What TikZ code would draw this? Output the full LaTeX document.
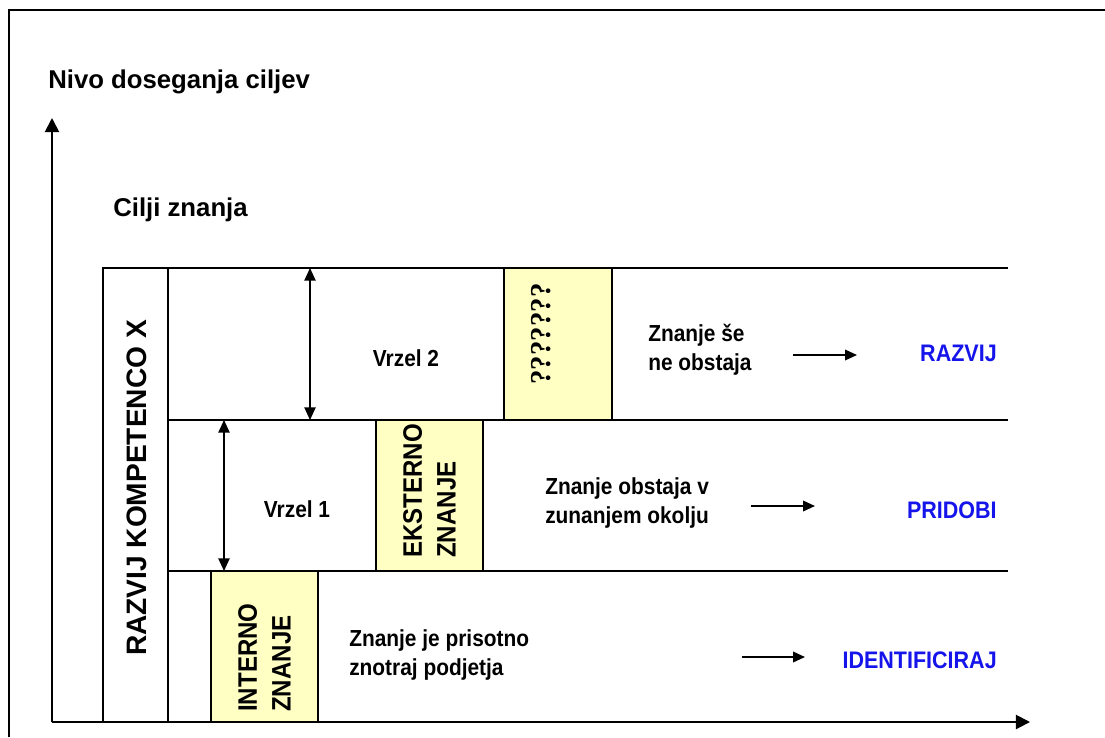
\documentclass[tikz,border=0pt]{standalone}
\usepackage{fontspec}
\setmainfont{Liberation Sans}
\newfontfamily\narrowsans{Liberation Sans}[FakeStretch=0.9]
\newfontfamily\qmarkfont{Liberation Serif}
\usetikzlibrary{arrows.meta}
\definecolor{paleyellow}{RGB}{255,255,196}
\definecolor{actionblue}{RGB}{20,20,235}
\tikzset{frameline/.style={line width=1.4pt},
         cell/.style={line width=1.1pt},
         knowbox/.style={cell, fill=paleyellow},
         axis/.style={line width=1.4pt, -{Triangle[length=10pt,width=10pt]}},
         gap/.style={line width=1.1pt,
           {Triangle[length=9pt,width=8pt]}-{Triangle[length=9pt,width=8pt]}},
         todo/.style={line width=1.2pt, -{Triangle[length=8.5pt,width=7.5pt]}},
         heading/.style={inner sep=0pt, font=\bfseries\fontsize{18.3}{22}\selectfont},
         body/.style={inner sep=0pt, align=left,
           font=\narrowsans\bfseries\fontsize{16.5}{20.5}\selectfont},
         action/.style={inner sep=0pt, text=actionblue,
           font=\narrowsans\bfseries\fontsize{17}{20}\selectfont},
         boxlabel/.style={inner sep=0pt, rotate=90, align=left,
           font=\narrowsans\bfseries\fontsize{19}{24}\selectfont}}

\begin{document}
\begin{tikzpicture}[x=0.025cm, y=-0.025cm]
  \useasboundingbox (0,0) rectangle (1105,737);

  % frame
  \draw[frameline] (9,737) -- (9,10) -- (1105,10);

  % axes
  \coordinate (origin) at (52,722);
  \coordinate (ytip) at (52,118);
  \coordinate (xtip) at (1030,722);

  \node[heading, anchor=base west] (levelname) at (48,88) {Nivo doseganja ciljev};
  \node[heading, anchor=base west] (goalsname) at (113,216) {Cilji znanja};

  % rows
  \draw[cell] (103,722) -- (103,268) -- (1008,268)
              (168,268) -- (168,722)
              (168,420) -- (1008,420)
              (168,571) -- (1008,571);

  \draw[knowbox] (211,571) rectangle (318,722);
  \draw[knowbox] (376,420) rectangle (483,571);
  \draw[knowbox] (504,268) rectangle (612,420);

  \draw[axis] (origin) -- (ytip);
  \draw[axis] (origin) -- (xtip);

  \node[rotate=90, inner sep=0pt, font=\bfseries\fontsize{20}{24}\selectfont]
    (competence) at (137,488) {RAZVIJ KOMPETENCO X};

  \node[boxlabel, anchor=west] (internal) at (264.5,712) {INTERNO\\ZNANJE};
  \node[boxlabel, anchor=west] (external) at (429.5,558) {EKSTERNO\\ZNANJE};
  \node[rotate=90, inner sep=0pt, font=\qmarkfont\bfseries\fontsize{20.5}{24}\selectfont]
    (unknown) at (541,334) {???????};

  % gaps
  \coordinate (gap2top) at (310,268);
  \coordinate (gap2bot) at (310,420);
  \coordinate (gap1top) at (224,420);
  \coordinate (gap1bot) at (224,571);
  \draw[gap] (gap2top) -- (gap2bot);
  \draw[gap] (gap1top) -- (gap1bot);
  \node[body] (gap2) at (406,358) {Vrzel 2};
  \node[body] (gap1) at (297,509) {Vrzel 1};

  % what to do
  \node[body, anchor=west] (missing) at (648,350) {Znanje še\\ne obstaja};
  \node[body, anchor=west] (outside) at (545,503) {Znanje obstaja v\\zunanjem okolju};
  \node[body, anchor=west] (inside) at (349,655) {Znanje je prisotno\\znotraj podjetja};

  \node[action, anchor=east] (develop) at (997,353) {RAZVIJ};
  \node[action, anchor=east] (acquire) at (997,510) {PRIDOBI};
  \node[action, anchor=east] (identify) at (997,660) {IDENTIFICIRAJ};

  \coordinate (dev1) at (793,355);
  \coordinate (dev2) at (857,355);
  \coordinate (acq1) at (751,506);
  \coordinate (acq2) at (815,506);
  \coordinate (idf1) at (742,657);
  \coordinate (idf2) at (805,657);
  \draw[todo] (dev1) -- (dev2);
  \draw[todo] (acq1) -- (acq2);
  \draw[todo] (idf1) -- (idf2);
\end{tikzpicture}
\end{document}
